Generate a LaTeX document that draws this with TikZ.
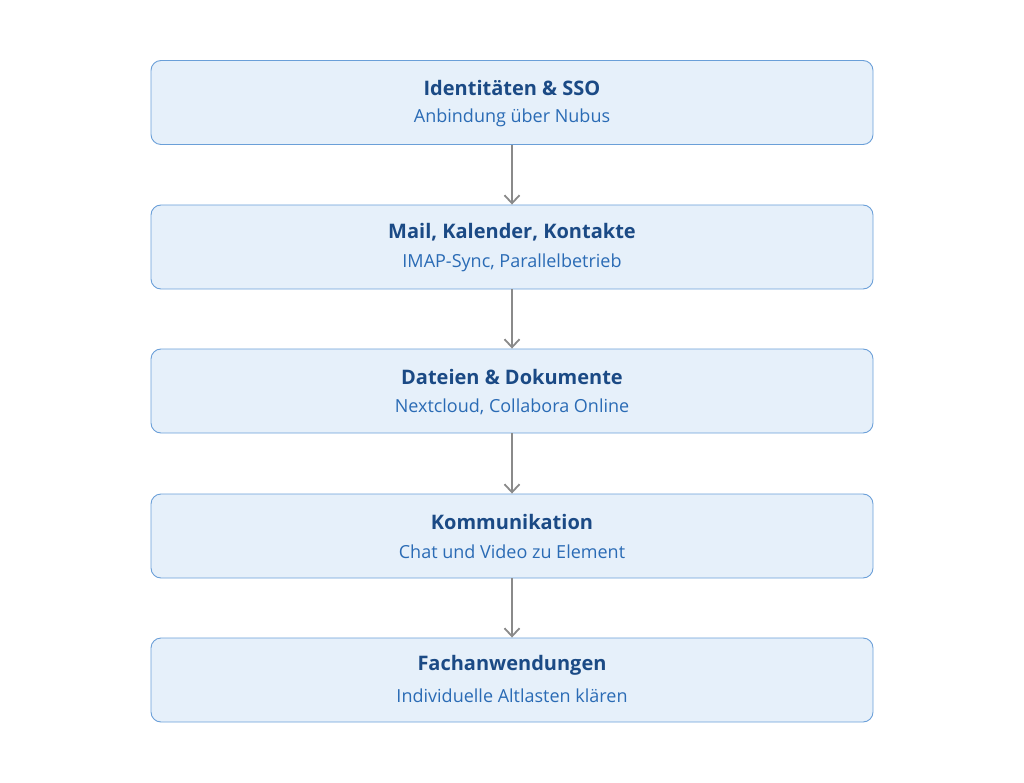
\documentclass[tikz,border=0pt]{standalone}
\usepackage{fontspec}
\setmainfont{Open Sans}
\usetikzlibrary{arrows.meta}
\definecolor{boxfill}{HTML}{E6F0FA}
\definecolor{boxdraw}{HTML}{6A9FD8}
\definecolor{titlecol}{HTML}{1B4A85}
\definecolor{subcol}{HTML}{2A6BB5}
\definecolor{arrcol}{HTML}{8A8A8A}
\tikzset{
  stagebox/.style={draw=boxdraw, fill=boxfill, line width=0.9pt, rounded corners=10pt,
    minimum width=722pt, minimum height=84pt, inner sep=0pt},
  titletext/.style={font=\fontsize{20}{22}\selectfont\bfseries, text=titlecol, inner sep=0pt},
  subtext/.style={font=\fontsize{18}{20}\selectfont, text=subcol, inner sep=0pt},
  flow/.style={draw=arrcol, line width=1.8pt, -{Straight Barb[length=8pt,width=15pt,line width=1.8pt]}}
}
\begin{document}
\begin{tikzpicture}[x=1pt,y=-1pt]
\useasboundingbox (0,0) rectangle (1024,783);
\foreach \n/\y/\t/\s in {
  a/102.5/{Identitäten \& SSO}/{Anbindung über Nubus},
  b/247/{Mail, Kalender, Kontakte}/{IMAP-Sync, Parallelbetrieb},
  c/391/{Dateien \& Dokumente}/{Nextcloud, Collabora Online},
  d/536/{Kommunikation}/{Chat und Video zu Element},
  e/680/{Fachanwendungen}/{Individuelle Altlasten klären}} {
  \node[stagebox] (\n) at (512,\y) {};
  \node[titletext] (\n t) at (512,\y-14.5) {\t};
  \node[subtext] (\n s) at (512,\y+15.5) {\s};
}
\draw[flow] (a.south) -- (b.north);
\draw[flow] (b.south) -- (c.north);
\draw[flow] (c.south) -- (d.north);
\draw[flow] (d.south) -- (e.north);
\end{tikzpicture}
\end{document}
